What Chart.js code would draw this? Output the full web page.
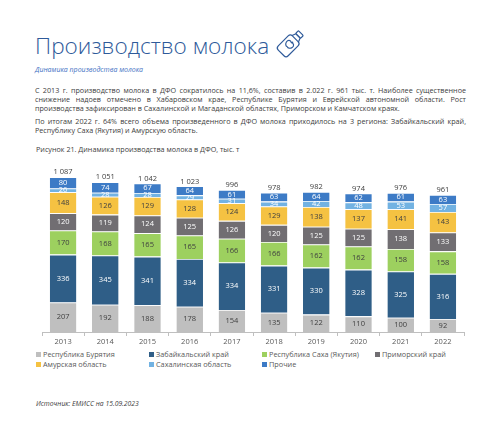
<!DOCTYPE html>
<html lang="ru">
<head>
<meta charset="utf-8">
<script src="https://cdn.jsdelivr.net/npm/chart.js@4/dist/chart.umd.min.js"></script>
<style>
  html, body { margin: 0; padding: 0; background: #fff; }
  body { width: 480px; height: 440px; position: relative; overflow: hidden; font-family: "Open Sans", sans-serif; color: #404040; }
  .title { position: absolute; left: 35px; top: 30px; font-size: 22.6px; font-weight: 300; color: #2e5a9a; white-space: nowrap; }
  .icon { position: absolute; left: 274px; top: 26px; }
  .subtitle { position: absolute; left: 35px; top: 65px; font-size: 7px; font-style: italic; color: #4472c4; }
  .text { position: absolute; left: 35px; width: 431px; font-size: 7.2px; line-height: 8.8px; text-align: justify; color: #404040; margin: 0; }
  .caption { position: absolute; left: 36px; top: 144px; font-size: 7.2px; color: #404040; }
  #wrap { position: absolute; left: 20px; top: 160px; width: 450px; height: 187px; }
  #legend { position: absolute; left: 36px; top: 349px; width: 440px; font-size: 7.3px; color: #595959; }
  #legend .item { position: absolute; white-space: nowrap; }
  #legend .box { display: inline-block; width: 5px; height: 5px; margin-right: 2px; vertical-align: 0px; }
  .source { position: absolute; left: 36px; top: 399px; font-size: 6.8px; font-style: italic; color: #404040; }
</style>
</head>
<body>
<div class="title">Производство молока</div>
<svg class="icon" width="34" height="34" viewBox="0 0 34 34">
  <g fill="none" stroke="#2e5a9a" stroke-width="1.2" stroke-linejoin="round" transform="rotate(45 17 17)">
    <rect x="10" y="11" width="14" height="20" rx="3"/>
    <path d="M12.5 11 L14 7 L20 7 L21.5 11"/>
    <rect x="13.5" y="3" width="7" height="4" rx="1"/>
    <path d="M17 16.5 c-2.5 -1.5 -4.5 0.5 -4 2.8 c0.5 2.5 2.5 3.7 4 3 c1.5 0.7 3.5 -0.5 4 -3 c0.5 -2.3 -1.5 -4.3 -4 -2.8 Z M17 16.5 l0.8 -1.8"/>
  </g>
</svg>
<div class="subtitle">Динамика производства молока</div>
<p class="text" style="top:86px">С 2013 г. производство молока в ДФО сократилось на 11,6%, составив в 2.022 г. 961 тыс. т. Наиболее существенное снижение надоев отмечено в Хабаровском крае, Республике Бурятия и Еврейской автономной области. Рост производства зафиксирован в Сахалинской и Магаданской областях, Приморском и Камчатском краях.</p>
<p class="text" style="top:117px">По итогам 2022 г. 64% всего объема произведенного в ДФО молока приходилось на 3 региона: Забайкальский край, Республику Саха (Якутия) и Амурскую область.</p>
<div class="caption">Рисунок 21. Динамика производства молока в ДФО, тыс. т</div>
<div id="wrap"><canvas id="milkChart"></canvas></div>
<div id="legend"></div>
<div class="source">Источник: ЕМИСС на 15.09.2023</div>

<script>
const years = ["2013", "2014", "2015", "2016", "2017", "2018", "2019", "2020", "2021", "2022"];

const buryatia = [207, 192, 188, 178, 154, 135, 122, 110, 100, 92];
const zabaikalsky = [336, 345, 341, 334, 334, 331, 330, 328, 325, 316];
const sakha = [170, 168, 165, 165, 166, 166, 162, 162, 158, 158];
const primorsky = [120, 119, 124, 125, 126, 120, 125, 125, 138, 133];
const amur = [148, 126, 129, 128, 124, 129, 138, 137, 141, 143];
const sakhalin = [26, 28, 28, 29, 31, 34, 42, 48, 53, 57];
const others = [80, 74, 67, 64, 61, 63, 64, 62, 61, 63];
const totals = [1087, 1051, 1042, 1023, 996, 978, 982, 974, 976, 961];

const series = [
  { label: "Республика Бурятия", data: buryatia, color: "#bfbfbf", text: "#404040" },
  { label: "Забайкальский край", data: zabaikalsky, color: "#2f5e87", text: "#ffffff" },
  { label: "Республика Саха (Якутия)", data: sakha, color: "#9dd05f", text: "#404040" },
  { label: "Приморский край", data: primorsky, color: "#716e72", text: "#ffffff" },
  { label: "Амурская область", data: amur, color: "#f5c242", text: "#404040" },
  { label: "Сахалинская область", data: sakhalin, color: "#72b2e2", text: "#ffffff" },
  { label: "Прочие", data: others, color: "#3d7bc6", text: "#ffffff" }
];

const legendSlots = [[0, 0], [113, 0], [226, 0], [339, 0], [0, 10], [113, 10], [226, 10]];

const valueLabels = {
  id: "valueLabels",
  afterDatasetsDraw(chart) {
    const ctx = chart.ctx;
    ctx.save();
    ctx.font = "7.5px 'Open Sans', sans-serif";
    ctx.textAlign = "center";
    ctx.textBaseline = "middle";
    chart.data.datasets.forEach((ds, i) => {
      const meta = chart.getDatasetMeta(i);
      ctx.fillStyle = series[i].text;
      meta.data.forEach((bar, idx) => {
        ctx.fillText(ds.data[idx], bar.x, (bar.y + bar.base) / 2);
      });
    });
    const top = chart.getDatasetMeta(chart.data.datasets.length - 1);
    ctx.fillStyle = "#404040";
    ctx.textBaseline = "bottom";
    top.data.forEach((bar, idx) => {
      ctx.fillText(totals[idx].toLocaleString("ru-RU").replace(/\s/g, " "), bar.x, bar.y - 1);
    });
    ctx.restore();
  }
};

const chart = new Chart(document.getElementById("milkChart").getContext("2d"), {
  type: "bar",
  data: {
    labels: years,
    datasets: series.map(s => ({
      label: s.label,
      data: s.data,
      backgroundColor: s.color,
      borderColor: "#ffffff",
      borderWidth: { top: 0.8 },
      borderSkipped: "bottom",
      barPercentage: 0.63,
      categoryPercentage: 1
    }))
  },
  options: {
    responsive: true,
    maintainAspectRatio: false,
    animation: false,
    layout: { padding: { left: 22, right: 6, top: 1, bottom: 0 } },
    scales: {
      x: {
        stacked: true,
        grid: { drawOnChartArea: false, drawTicks: true, tickLength: 4, color: "#bfbfbf" },
        border: { display: true, color: "#bfbfbf", width: 1 },
        ticks: { color: "#595959", font: { family: "'Open Sans', sans-serif", size: 7.5 }, padding: 1 }
      },
      y: {
        stacked: true,
        display: false,
        min: 0,
        max: 1200
      }
    },
    plugins: {
      legend: { display: false },
      tooltip: { enabled: false }
    }
  },
  plugins: [valueLabels]
});

const legend = document.getElementById("legend");
series.forEach((s, i) => {
  const item = document.createElement("span");
  item.className = "item";
  item.style.left = `${legendSlots[i][0]}px`;
  item.style.top = `${legendSlots[i][1]}px`;
  item.innerHTML = `<span class="box" style="background:${s.color}"></span>${s.label}`;
  legend.appendChild(item);
});
</script>
</body>
</html>
